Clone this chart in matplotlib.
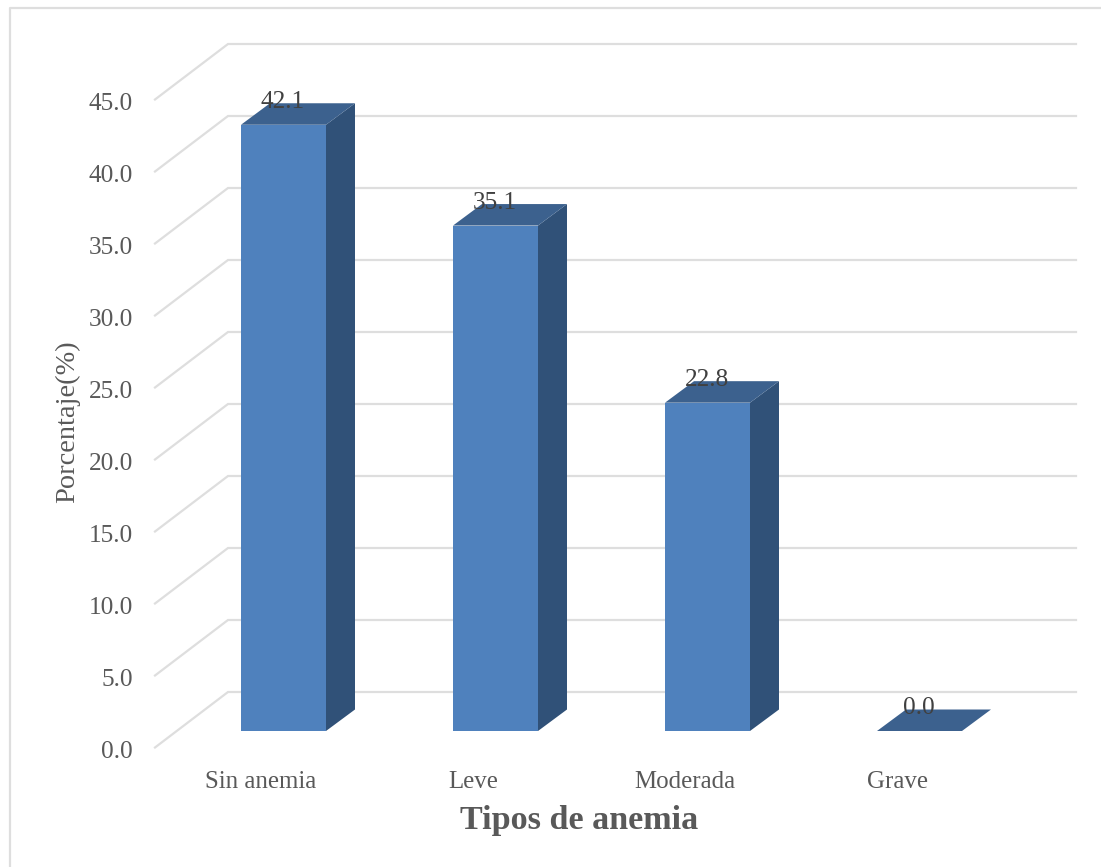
import matplotlib
matplotlib.use("Agg")
import matplotlib.pyplot as plt
from matplotlib.lines import Line2D
from matplotlib.patches import Polygon
from matplotlib.transforms import Affine2D

categories = ["Sin anemia", "Leve", "Moderada", "Grave"]
values = [42.1, 35.1, 22.8, 0.0]
y_ticks = [0, 5, 10, 15, 20, 25, 30, 35, 40, 45]

FONT = "Liberation Serif"
FIG_W, FIG_H = 1101, 867
AX_LEFT, AX_RIGHT, AX_TOP, AX_BOTTOM = 155, 1003, 99.5, 747.5
PX_X = (AX_RIGHT - AX_LEFT) / 4
PX_Y = (AX_BOTTOM - AX_TOP) / 45

# 3D-look offsets, converted from pixels to data units
WALL_DX, WALL_DY = 73 / PX_X, 55.5 / PX_Y
BAR_DX, BAR_DY = 22.5 / PX_X, 16.5 / PX_Y
DEPTH_DX, DEPTH_DY = 29 / PX_X, 21.5 / PX_Y
BAR_W = 85 / PX_X

FRONT, SIDE, TOP = "#4F81BD", "#305178", "#3C618E"
GRID, TICK, LABEL = "#DEDEDE", "#595959", "#404040"

fig = plt.figure(figsize=(FIG_W / 100, FIG_H / 100), dpi=100, facecolor="white")
ax = fig.add_axes([AX_LEFT / FIG_W, 1 - AX_BOTTOM / FIG_H,
                   (AX_RIGHT - AX_LEFT) / FIG_W, (AX_BOTTOM - AX_TOP) / FIG_H])
ax.set_xlim(-0.5, 3.5)
ax.set_ylim(0, 45)
ax.patch.set_alpha(0)
for spine in ax.spines.values():
    spine.set_visible(False)

# Chart frame: only top and left edges are visible
fig.add_artist(Line2D([9.5 / FIG_W, 9.5 / FIG_W, 1], [0, 1 - 8 / FIG_H, 1 - 8 / FIG_H],
                      color=GRID, lw=1.6))

# Side-wall diagonals and back-wall gridlines
for v in y_ticks:
    ax.plot([-0.5, -0.5 + WALL_DX, 3.5 + WALL_DX], [v, v + WALL_DY, v + WALL_DY],
            color=GRID, lw=1.6, clip_on=False, zorder=1, solid_joinstyle="miter")

# Bars: front face, right side and top
centers = [i + BAR_DX for i in range(len(values))]
ax.bar(centers, values, width=BAR_W, bottom=BAR_DY, color=FRONT, zorder=3, clip_on=False)
for c, v in zip(centers, values):
    l, r = c - BAR_W / 2, c + BAR_W / 2
    base, top = BAR_DY, BAR_DY + v
    if v > 0:
        ax.add_patch(Polygon([(r, base), (r + DEPTH_DX, base + DEPTH_DY),
                              (r + DEPTH_DX, top + DEPTH_DY), (r, top)],
                             facecolor=SIDE, edgecolor="none", zorder=3, clip_on=False))
    ax.add_patch(Polygon([(l, top), (r, top), (r + DEPTH_DX, top + DEPTH_DY),
                          (l + DEPTH_DX, top + DEPTH_DY)],
                         facecolor=TOP, edgecolor="none", zorder=3, clip_on=False))
    ax.annotate(f"{v:.1f}", (c, top), xytext=(-1, 23), textcoords="offset pixels",
                ha="center", va="center", fontsize=18.3, family=FONT, color=LABEL,
                zorder=4, annotation_clip=False)

ax.set_yticks(y_ticks, [f"{v:.1f}" for v in y_ticks], family=FONT, fontsize=18.3, color=TICK)
ax.set_xticks(range(len(categories)), categories, family=FONT, fontsize=17.9, color=TICK)
ax.tick_params(axis="y", length=0, pad=16)
ax.tick_params(axis="x", length=0, pad=17)

# Nudge the value-axis labels slightly below their wall lines
for label in ax.get_yticklabels():
    label.set_transform(label.get_transform() + Affine2D().translate(0, -2))

fig.text(68 / FIG_W, 1 - 422 / FIG_H, "Porcentaje(%)", rotation=90, ha="center", va="center",
         family=FONT, fontsize=20.4, color=TICK)
fig.text(579 / FIG_W, 1 - 821 / FIG_H, "Tipos de anemia", ha="center", va="center",
         family=FONT, fontsize=24.6, fontweight="bold", color=TICK)

fig.savefig("out.png", dpi=100)
